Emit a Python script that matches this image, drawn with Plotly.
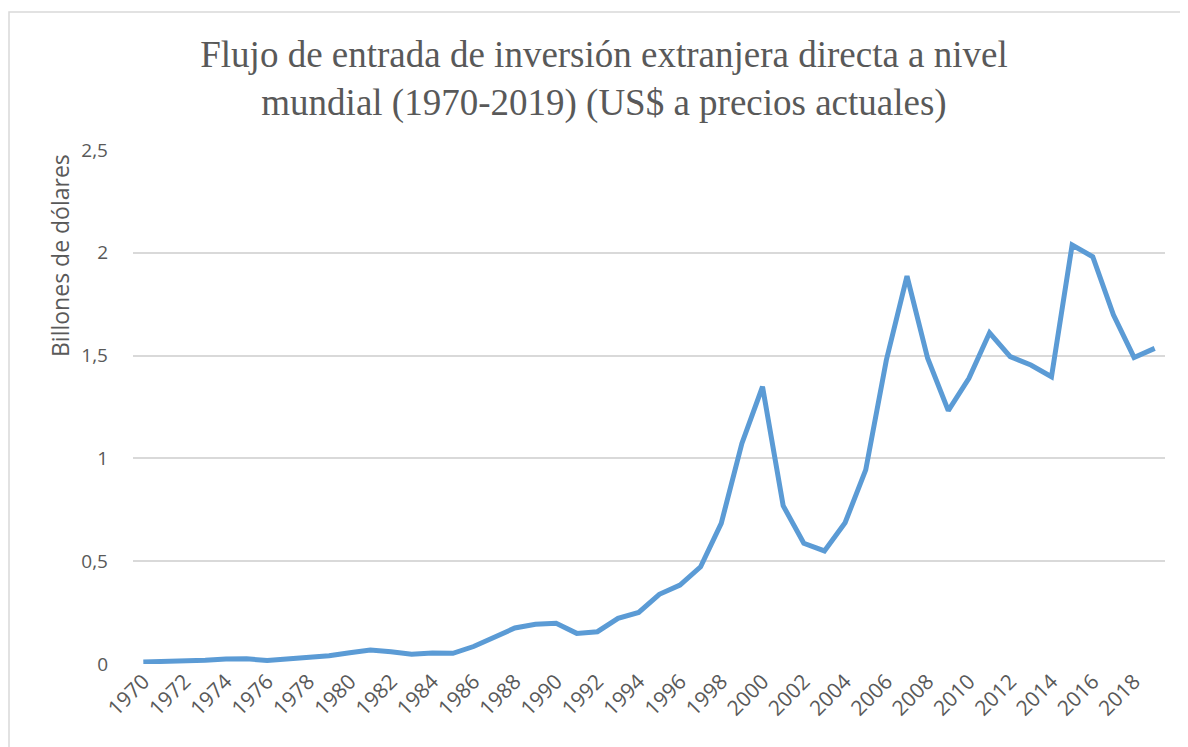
"""
Flujo de entrada de IED mundial 1970-2019
"""

import plotly.graph_objects as go

# datos (billones de US$)
years = list(range(1970, 2020))
ied = [0.010, 0.011, 0.012, 0.018, 0.024, 0.025, 0.017, 0.025, 0.033, 0.040,
       0.055, 0.068, 0.060, 0.047, 0.053, 0.052, 0.085, 0.133, 0.175, 0.193,
       0.198, 0.149, 0.157, 0.222, 0.251, 0.339, 0.384, 0.473, 0.684, 1.073,
       1.349, 0.770, 0.587, 0.550, 0.687, 0.944, 1.479, 1.887, 1.487, 1.232,
       1.390, 1.611, 1.495, 1.454, 1.397, 2.038, 1.981, 1.698, 1.491, 1.535]

y_ticks = [0, 0.5, 1, 1.5, 2, 2.5]
y_ticktext = ["0", "0,5", "1", "1,5", "2", "2,5"]

title = ("Flujo de entrada de inversión extranjera directa a nivel<br>"
         "mundial (1970-2019) (US$ a precios actuales)")
y_label = "Billones de dólares"

gris = "#595959"
grid = "#d9d9d9"
sans = "Open Sans"

# la página tiene 8 px de margen en el body: la figura es 8 px más pequeña
W, H = 1180, 739

fig = go.Figure(
    go.Scatter(
        x=years,
        y=ied,
        mode="lines",
        line=dict(color="#5b9bd5", width=5),
        hoverinfo="x+y",
    )
)

fig.update_layout(
    width=W,
    height=H,
    margin=dict(l=125, r=23, t=142, b=83),
    paper_bgcolor="white",
    plot_bgcolor="white",
    showlegend=False,
    title=dict(
        text=title,
        font=dict(family="Liberation Serif", size=37, color=gris),
        x=596 / W,
        xanchor="center",
        xref="container",
        y=1 - 59 / H,
        yanchor="top",
        yref="container",
    ),
    xaxis=dict(
        range=[1969.5, 2019.5],
        tick0=1970,
        dtick=2,
        tickangle=-45,
        showgrid=False,
        zeroline=False,
        showline=False,
        ticks="",
        tickfont=dict(family=sans, size=21, color=gris),
    ),
    yaxis=dict(
        range=[0, 2.5],
        tickvals=y_ticks,
        ticktext=y_ticktext,
        showgrid=True,
        gridcolor=grid,
        gridwidth=1.6,
        zeroline=False,
        showline=False,
        ticks="",
        ticklabelstandoff=24,
        tickfont=dict(family=sans, size=19, color=gris),
    ),
)

# título del eje y
fig.add_annotation(
    text=y_label,
    textangle=-90,
    xref="paper", yref="paper",
    x=(60 - 133) / 1032, y=(664 - 256) / 514,
    xanchor="center", yanchor="middle",
    showarrow=False,
    font=dict(family=sans, size=23, color=gris),
)

# marco del área del gráfico
fig.add_shape(
    type="rect",
    xref="paper", yref="paper",
    x0=(9 - 133) / 1032, x1=(1200 - 133) / 1032,
    y0=(664 - 760) / 514, y1=(664 - 12) / 514,
    line=dict(color=grid, width=1.5),
    fillcolor="rgba(0,0,0,0)",
    layer="below",
)

fig.write_html("out.html")
